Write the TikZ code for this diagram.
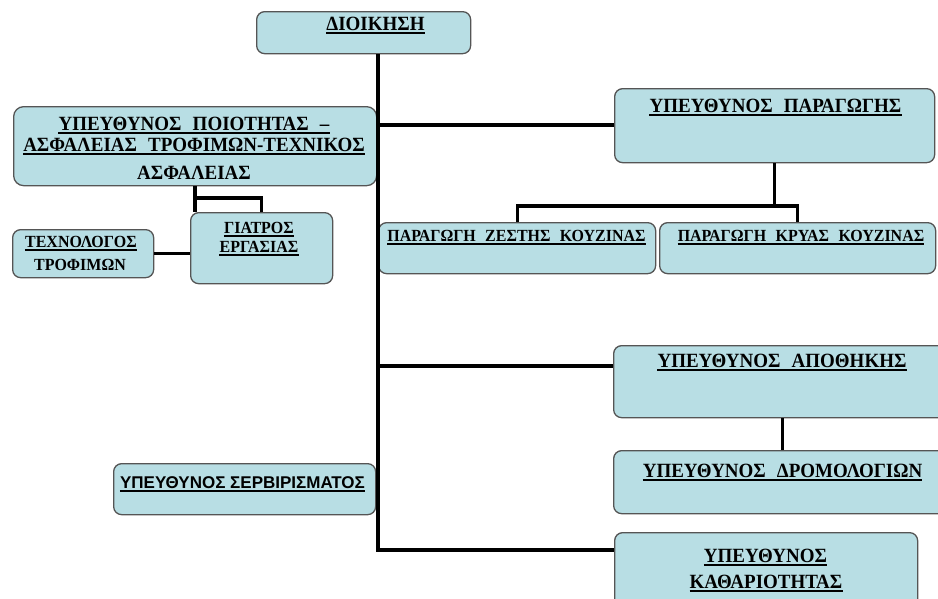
\documentclass[tikz,border=0pt]{standalone}
\usepackage{fontspec}
\setmainfont{Liberation Serif}[FakeStretch=0.94]
\newfontfamily\sansfam{Liberation Sans}
\usetikzlibrary{calc}
\definecolor{boxfill}{RGB}{184,222,228}
\definecolor{boxline}{RGB}{85,85,85}
\newcommand\ulunder[1]{\draw[ulline] ([yshift=-3.2pt]#1.base west) -- ([yshift=-3.2pt]#1.base east);}
\newcommand\wsp{\hspace{0.55em}}
\begin{document}
\begin{tikzpicture}[x=1pt,y=-1pt,
  box/.style={draw=boxline, fill=boxfill, line width=1.3pt, rounded corners=8pt,
              anchor=north west, inner sep=0pt},
  conn/.style={line width=3.2pt, black},
  ulline/.style={line width=1.6pt, black},
  lbl/.style={font=\bfseries\fontsize{20.2}{20}\selectfont, inner sep=0pt, anchor=base},
  lblsm/.style={font=\bfseries\fontsize{17}{17}\selectfont, inner sep=0pt, anchor=base},
  lblsans/.style={font=\sansfam\bfseries\fontsize{17}{17}\selectfont, inner sep=0pt, anchor=base}]
\useasboundingbox (0,0) rectangle (938,598);
\clip (0,0) rectangle (938,598);
\fill[white] (0,0) rectangle (938,598);

% boxes
\node[box, minimum width=214pt, minimum height=42pt] (dio) at (256,11) {};
\node[box, minimum width=363pt, minimum height=79pt, rounded corners=10pt] (poi) at (13,106) {};
\node[box, minimum width=320pt, minimum height=74pt] (par) at (614,88) {};
\node[box, minimum width=277pt, minimum height=51pt] (zes) at (378,222) {};
\node[box, minimum width=276pt, minimum height=51pt] (kry) at (659,222) {};
\node[box, minimum width=142pt, minimum height=71pt] (gia) at (190,212) {};
\node[box, minimum width=141pt, minimum height=48pt] (tex) at (12,229) {};
\node[box, minimum width=338pt, minimum height=72pt] (apo) at (613,345) {};
\node[box, minimum width=338pt, minimum height=63pt] (dro) at (613,450) {};
\node[box, minimum width=262pt, minimum height=51pt] (ser) at (113,463) {};
\node[box, minimum width=303pt, minimum height=80pt] (kat) at (614,532) {};

% helper coordinates for the bus lines
\coordinate (sp) at (378,0);
\coordinate (yp) at (0,125);
\coordinate (ya) at (0,366);
\coordinate (yk) at (0,550);
\coordinate (yh) at (0,206);
\coordinate (yg) at (0,198);
\coordinate (gx) at (195,0);

% connectors
\draw[conn] (dio.south -| sp) -- (sp |- yk) -- (kat.west |- yk);
\draw[conn] (sp |- yp) -- (par.west |- yp);
\draw[conn] (sp |- ya) -- (apo.west |- ya);
\draw[conn] (par.south) -- (par.south |- yh);
\draw[conn] (zes.north) |- (kry.north |- yh) -- (kry.north);
\draw[conn] (apo.south) -- (dro.north);
\draw[conn] (gx |- poi.south) -- (gx |- gia.north);
\draw[conn] (gia.north) |- (gx |- yg);
\draw[conn] (tex.east) -- (gia.west |- tex.east);

% labels
\node[lbl] (tdio) at (375.5,30) {ΔΙΟΙΚΗΣΗ};
\node[lbl] (tpoi1) at (194,130) {ΥΠΕΥΘΥΝΟΣ\wsp ΠΟΙΟΤΗΤΑΣ\wsp –};
\node[lbl] (tpoi2) at (194,151) {ΑΣΦΑΛΕΙΑΣ\wsp ΤΡΟΦΙΜΩΝ-ΤΕΧΝΙΚΟΣ};
\node[lbl] (tpoi3) at (194,179) {ΑΣΦΑΛΕΙΑΣ};
\node[lbl] (tpar) at (775.5,112) {ΥΠΕΥΘΥΝΟΣ\wsp ΠΑΡΑΓΩΓΗΣ};
\node[lblsm] (tzes) at (516.5,241) {ΠΑΡΑΓΩΓΗ\wsp ΖΕΣΤΗΣ\wsp ΚΟΥΖΙΝΑΣ};
\node[lblsm] (tkry) at (801,241) {ΠΑΡΑΓΩΓΗ\wsp ΚΡΥΑΣ\wsp ΚΟΥΖΙΝΑΣ};
\node[lblsm] (tgia1) at (259,233) {ΓΙΑΤΡΟΣ};
\node[lblsm] (tgia2) at (259,252) {ΕΡΓΑΣΙΑΣ};
\node[lblsm] (ttex1) at (81,247) {ΤΕΧΝΟΛΟΓΟΣ};
\node[lblsm] (ttex2) at (80,270) {ΤΡΟΦΙΜΩΝ};
\node[lbl] (tapo) at (782,367) {ΥΠΕΥΘΥΝΟΣ\wsp ΑΠΟΘΗΚΗΣ};
\node[lbl] (tdro) at (782.5,477) {ΥΠΕΥΘΥΝΟΣ\wsp ΔΡΟΜΟΛΟΓΙΩΝ};
\node[lblsans] (tser) at (242.5,488) {ΥΠΕΥΘΥΝΟΣ ΣΕΡΒΙΡΙΣΜΑΤΟΣ};
\node[lbl] (tkat1) at (765.5,562) {ΥΠΕΥΘΥΝΟΣ};
\node[lbl] (tkat2) at (766,588) {ΚΑΘΑΡΙΟΤΗΤΑΣ};

% underlines
\ulunder{tdio}
\ulunder{tpoi1}
\ulunder{tpoi2}
\ulunder{tpar}
\ulunder{tzes}
\ulunder{tkry}
\ulunder{tgia1}
\ulunder{tgia2}
\ulunder{ttex1}
\ulunder{tapo}
\ulunder{tdro}
\ulunder{tser}
\ulunder{tkat1}
\ulunder{tkat2}
\end{tikzpicture}
\end{document}
